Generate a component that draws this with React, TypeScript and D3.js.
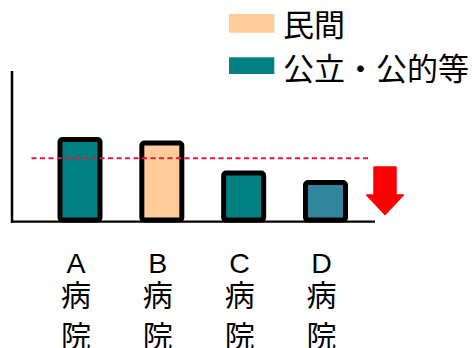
import React from "react";
import * as d3 from "d3";

// Hospitals and their indexed values
const categories = ["A", "B", "C", "D"];
const values = [54, 51.7, 31.5, 25.2];
const barColors = ["#008080", "#ffcc99", "#008080", "#31859c"];
const averageValue = 41.4;

// Legend entries
const legendLabels = ["民間", "公立・公的等"];
const legendColors = ["#ffcc99", "#008080"];

const labelSuffix = ["病", "院"];

const W = 475;
const H = 348;
const CJK = "'Noto Sans CJK JP', 'Noto Sans', sans-serif";
const LATIN = "'Liberation Sans', Arial, sans-serif";

export default function App() {
  const x = d3.scalePoint<string>().domain(categories).range([80, 325.5]);
  const y = d3.scaleLinear().domain([0, 100]).range([220, 71]);
  const barW = 40;

  const axisX = 12;
  const axisEnd = 375;
  const baseY = y(0) + 1.7;

  // downward arrow geometry
  const ax0 = 366.7, ax1 = 403.3, sx0 = 374, sx1 = 396;
  const aTop = 167, aNeck = 195, aTip = 214.5;
  const arrow = d3.path();
  arrow.moveTo(sx0, aTop);
  arrow.lineTo(sx1, aTop);
  arrow.lineTo(sx1, aNeck);
  arrow.lineTo(ax1, aNeck);
  arrow.lineTo((ax0 + ax1) / 2, aTip);
  arrow.lineTo(ax0, aNeck);
  arrow.lineTo(sx0, aNeck);
  arrow.closePath();

  return (
    <svg
      width={W}
      height={H}
      style={{ position: "absolute", left: 0, top: 0, background: "#fff" }}
    >
      {/* legend */}
      {legendLabels.map((l, i) => (
        <g key={l}>
          <rect
            x={229}
            y={i === 0 ? 14 : 57.3}
            width={45.3}
            height={i === 0 ? 18.7 : 16.7}
            fill={legendColors[i]}
          />
          <text
            x={283}
            y={i === 0 ? 35.5 : 80}
            fontFamily={CJK}
            fontSize={31}
            fill="#000"
          >
            {l}
          </text>
        </g>
      ))}

      {/* bars */}
      {categories.map((c, i) => (
        <rect
          key={c}
          x={(x(c) as number) - barW / 2}
          y={y(values[i])}
          width={barW}
          height={y(0) - y(values[i])}
          rx={2.5}
          fill={barColors[i]}
          stroke="#000"
          strokeWidth={5}
        />
      ))}

      {/* axes */}
      <line x1={axisX} x2={axisX} y1={71} y2={baseY + 1} stroke="#000" strokeWidth={2.5} />
      <line x1={axisX - 1} x2={axisEnd} y1={baseY} y2={baseY} stroke="#000" strokeWidth={2.2} />

      {/* average line */}
      <line
        x1={31.5}
        x2={369.5}
        y1={y(averageValue)}
        y2={y(averageValue)}
        stroke="#e8163e"
        strokeWidth={2}
        strokeDasharray="5 3.5"
      />

      {/* arrow */}
      <path d={arrow.toString()} fill="#ff0000" stroke="#ff0000" strokeWidth={1.5} strokeLinejoin="round" />

      {/* category labels */}
      {categories.map((c) => {
        const cx = (x(c) as number) - 4;
        return (
          <g key={"l" + c} textAnchor="middle">
            <text x={cx} y={273.3} fontFamily={LATIN} fontSize={28.5} fill="#000">
              {c}
            </text>
            {labelSuffix.map((s, j) => (
              <text key={s} x={cx} y={306 + j * 40.5} fontFamily={CJK} fontSize={30} fill="#000">
                {s}
              </text>
            ))}
          </g>
        );
      })}
    </svg>
  );
}
